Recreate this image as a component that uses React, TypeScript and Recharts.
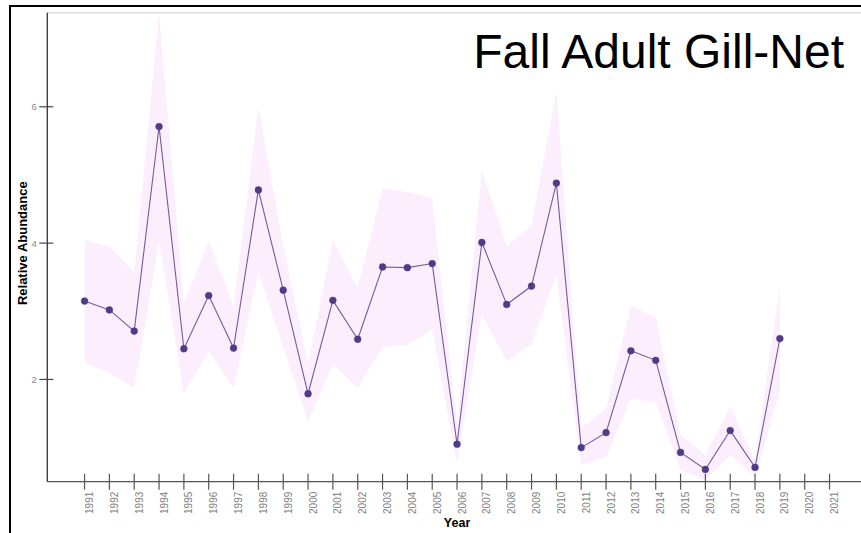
import { ComposedChart, Area, Line, XAxis, YAxis, ReferenceLine } from "recharts";

const years = [
  1991, 1992, 1993, 1994, 1995, 1996, 1997, 1998, 1999, 2000, 2001, 2002, 2003, 2004, 2005, 2006,
  2007, 2008, 2009, 2010, 2011, 2012, 2013, 2014, 2015, 2016, 2017, 2018, 2019, 2020, 2021,
];
const abundance = [
  3.15, 3.02, 2.71, 5.71, 2.45, 3.23, 2.46, 4.78, 3.31, 1.79, 3.16, 2.59, 3.65, 3.64, 3.7, 1.05,
  4.01, 3.1, 3.37, 4.88, 1.0, 1.22, 2.42, 2.28, 0.93, 0.68, 1.25, 0.71, 2.6, null, null,
];
const upper = [
  4.04, 3.95, 3.58, 7.37, 3.12, 4.03, 3.07, 6.0, 3.97, 2.23, 4.05, 3.34, 4.81, 4.75, 4.66, 1.35,
  5.07, 3.96, 4.26, 6.23, 1.28, 1.57, 3.08, 2.91, 1.18, 0.89, 1.6, 0.82, 3.38, null, null,
];
const lower = [
  2.25, 2.09, 1.88, 4.02, 1.8, 2.4, 1.88, 3.58, 2.47, 1.38, 2.22, 1.88, 2.48, 2.51, 2.72, 0.77,
  2.94, 2.27, 2.52, 3.53, 0.74, 0.86, 1.72, 1.66, 0.67, 0.52, 0.89, 0.57, 1.84, null, null,
];
const yTicks = [2, 4, 6];

const title = "Fall Adult Gill-Net";
const font = "'Liberation Sans', Arial, sans-serif";

const data = years.map((year, i) => ({
  year,
  value: abundance[i],
  band: upper[i] != null && lower[i] != null ? [lower[i], upper[i]] : null,
}));

function XTick({ x, y, payload }: any) {
  return (
    <g>
      <line x1={x} x2={x} y1={y - 8} y2={y + 8} stroke="#555" strokeWidth={1.2} />
      <text
        x={x}
        y={y + 10}
        dy={8.5}
        transform={`rotate(-90 ${x} ${y + 10})`}
        textAnchor="end"
        fontSize={10}
        fontFamily={font}
        fill="#808080"
      >
        {payload.value}
      </text>
    </g>
  );
}

function YTick({ x, y, payload }: any) {
  return (
    <g>
      <line x1={x - 8} x2={x + 6} y1={y} y2={y} stroke="#444" strokeWidth={1.2} />
      <text x={x - 10.5} y={y} dy={3.4} textAnchor="end" fontSize={9.5} fontFamily={font} fill="#888">
        {payload.value}
      </text>
    </g>
  );
}

export default function App() {
  return (
    <div style={{ position: "absolute", left: 0, top: 0, width: 861, height: 533, overflow: "hidden", background: "#fff" }}>
      <ComposedChart
        width={880}
        height={533}
        data={data}
        margin={{ top: 12.7, right: 13.2, bottom: 0, left: 0 }}
      >
        <XAxis
          dataKey="year"
          type="number"
          domain={[1989.5, 2022.5]}
          ticks={years}
          interval={0}
          height={51.3}
          tickSize={0}
          tickMargin={0}
          tickLine={false}
          tick={<XTick />}
          axisLine={{ stroke: "#555", strokeWidth: 1.3 }}
          label={({ viewBox }: any) => (
            <text
              x={viewBox.x + viewBox.width / 2}
              y={527}
              textAnchor="middle"
              fontSize={12.5}
              fontWeight="bold"
              fontFamily={font}
              fill="#000"
            >
              Year
            </text>
          )}
        />
        <YAxis
          type="number"
          domain={[0.5, 7.38]}
          allowDataOverflow
          ticks={yTicks}
          width={47.3}
          tickSize={0}
          tickMargin={0}
          tickLine={false}
          tick={<YTick />}
          axisLine={{ stroke: "#333", strokeWidth: 1.3 }}
          label={({ viewBox }: any) => {
            const cy = viewBox.y + viewBox.height / 2 - 4;
            return (
              <text
                x={27.5}
                y={cy}
                transform={`rotate(-90 27.5 ${cy})`}
                textAnchor="middle"
                fontSize={13}
                fontWeight="bold"
                fontFamily={font}
                fill="#000"
              >
                Relative Abundance
              </text>
            );
          }}
        />
        <ReferenceLine y={7.38} stroke="#dcdcdc" strokeWidth={1.5} ifOverflow="visible" />
        <Area
          dataKey="band"
          type="linear"
          stroke="none"
          fill="#fdeefd"
          fillOpacity={1}
          isAnimationActive={false}
          connectNulls={false}
        />
        <Line
          dataKey="value"
          type="linear"
          stroke="#6e5ca0"
          strokeWidth={1.1}
          dot={{ r: 3.4, fill: "#4f3b86", stroke: "#4f3b86", strokeWidth: 0.5 }}
          isAnimationActive={false}
        />
      </ComposedChart>
      <svg width={861} height={533} style={{ position: "absolute", left: 0, top: 0, pointerEvents: "none" }}>
        <path d="M10 533 V6 H861" fill="none" stroke="#000" strokeWidth={2} />
        <text x={844} y={68} textAnchor="end" fontSize={48} fontFamily={font} fill="#000">
          {title}
        </text>
      </svg>
    </div>
  );
}
